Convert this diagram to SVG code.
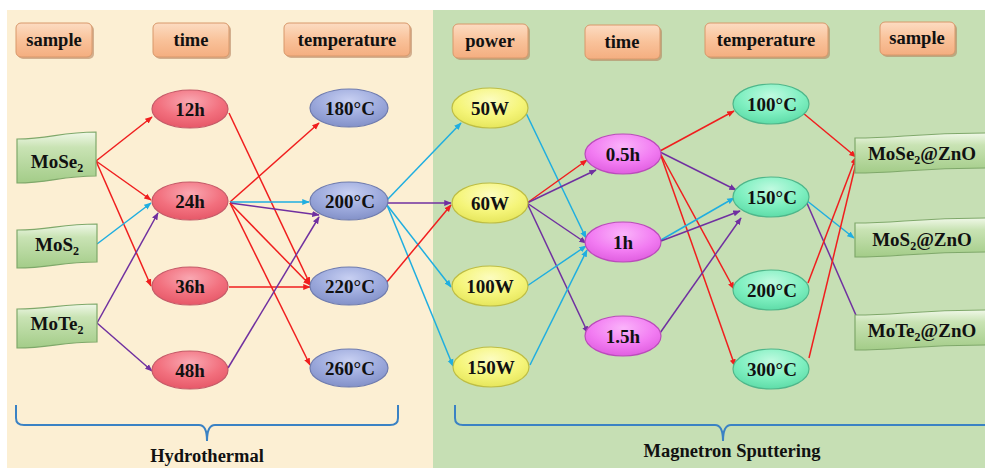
<svg xmlns="http://www.w3.org/2000/svg" width="985" height="468" viewBox="0 0 985 468" font-family="'Liberation Serif', 'DejaVu Serif', serif">
<defs>
<style>
text{font-family:"Liberation Serif","DejaVu Serif",serif;font-weight:700;fill:#111;text-anchor:middle}
.hd{font-size:18.5px}
.nl{font-size:19px}
.hdr{fill:url(#gOr);stroke:#D8986A;stroke-width:1}
.hsh{fill:#B07A55;opacity:.55}
.wav{fill:url(#gGr);stroke:#7FA86A;stroke-width:1.2}
.e{stroke-width:1.2}
.pk{fill:url(#gPk);stroke:#C45A68}
.bl{fill:url(#gBl);stroke:#6E7BAE}
.ye{fill:url(#gYe);stroke:#BDBD45}
.mg{fill:url(#gMg);stroke:#BA4CBA}
.mt{fill:url(#gMt);stroke:#4FB68A}
.r{stroke:#F01E1E;stroke-width:1.5;fill:none;marker-end:url(#aR)}
.c{stroke:#1FAEE0;stroke-width:1.5;fill:none;marker-end:url(#aC)}
.p{stroke:#7030A0;stroke-width:1.5;fill:none;marker-end:url(#aP)}
.br{stroke:#3A82C4;stroke-width:2;fill:none}
</style>
<linearGradient id="gOr" x1="0" y1="0" x2="0" y2="1"><stop offset="0" stop-color="#FCDCC2"/><stop offset="0.5" stop-color="#F9C29A"/><stop offset="1" stop-color="#F4AE80"/></linearGradient>
<linearGradient id="gGr" x1="0" y1="0" x2="0" y2="1"><stop offset="0" stop-color="#F0F8E8"/><stop offset="0.3" stop-color="#C9E3B4"/><stop offset="1" stop-color="#A3CC88"/></linearGradient>
<radialGradient id="gPk" cx="0.5" cy="0.3" r="0.7"><stop offset="0" stop-color="#F9A8B2"/><stop offset="0.6" stop-color="#F2707E"/><stop offset="1" stop-color="#E65868"/></radialGradient>
<radialGradient id="gBl" cx="0.5" cy="0.3" r="0.7"><stop offset="0" stop-color="#C8D0F2"/><stop offset="0.6" stop-color="#9CA9DC"/><stop offset="1" stop-color="#8391C8"/></radialGradient>
<radialGradient id="gYe" cx="0.5" cy="0.3" r="0.7"><stop offset="0" stop-color="#FCFCC0"/><stop offset="0.6" stop-color="#F5F57A"/><stop offset="1" stop-color="#E6E65C"/></radialGradient>
<radialGradient id="gMg" cx="0.5" cy="0.3" r="0.7"><stop offset="0" stop-color="#FAB4FA"/><stop offset="0.6" stop-color="#F27CF2"/><stop offset="1" stop-color="#E05EE0"/></radialGradient>
<radialGradient id="gMt" cx="0.5" cy="0.3" r="0.7"><stop offset="0" stop-color="#C0FAE0"/><stop offset="0.6" stop-color="#7EEFC0"/><stop offset="1" stop-color="#5EDCA8"/></radialGradient>
<marker id="aR" viewBox="0 0 10 10" refX="9" refY="5" markerWidth="5" markerHeight="5" orient="auto" markerUnits="strokeWidth"><path d="M0,1 L10,5 L0,9 z" fill="#F01E1E"/></marker>
<marker id="aC" viewBox="0 0 10 10" refX="9" refY="5" markerWidth="5" markerHeight="5" orient="auto" markerUnits="strokeWidth"><path d="M0,1 L10,5 L0,9 z" fill="#1FAEE0"/></marker>
<marker id="aP" viewBox="0 0 10 10" refX="9" refY="5" markerWidth="5" markerHeight="5" orient="auto" markerUnits="strokeWidth"><path d="M0,1 L10,5 L0,9 z" fill="#7030A0"/></marker>
</defs>

<rect x="0" y="0" width="985" height="468" fill="#FFFFFF"/>
<rect x="7" y="10" width="426" height="458" fill="#FCEFD3"/>
<rect x="433" y="10" width="552" height="458" fill="#C6DFB4"/>

<g id="headers">
<g id="h-sample-l"><rect class="hsh" x="18" y="25" width="76" height="34" rx="5"/><rect class="hdr" x="16" y="23" width="76" height="34" rx="5"/><text class="hd" x="54" y="46">sample</text></g>
<g id="h-time-l"><rect class="hsh" x="155" y="25" width="76" height="34" rx="5"/><rect class="hdr" x="153" y="23" width="76" height="34" rx="5"/><text class="hd" x="191" y="46">time</text></g>
<g id="h-temp-l"><rect class="hsh" x="286" y="25" width="126" height="33" rx="5"/><rect class="hdr" x="284" y="23" width="126" height="33" rx="5"/><text class="hd" x="347" y="46">temperature</text></g>
<g id="h-power"><rect class="hsh" x="455" y="26" width="75" height="34" rx="5"/><rect class="hdr" x="453" y="24" width="75" height="34" rx="5"/><text class="hd" x="490" y="47">power</text></g>
<g id="h-time-r"><rect class="hsh" x="587" y="27" width="75" height="34" rx="5"/><rect class="hdr" x="585" y="25" width="75" height="34" rx="5"/><text class="hd" x="622" y="48">time</text></g>
<g id="h-temp-r"><rect class="hsh" x="707" y="25" width="123" height="34" rx="5"/><rect class="hdr" x="705" y="23" width="123" height="34" rx="5"/><text class="hd" x="766" y="46">temperature</text></g>
<g id="h-sample-r"><rect class="hsh" x="882" y="24" width="75" height="33" rx="5"/><rect class="hdr" x="880" y="22" width="75" height="33" rx="5"/><text class="hd" x="917" y="44">sample</text></g>
</g>

<g id="connectors">
<path class="r" d="M96,161 L152,117"/>
<path class="r" d="M96,161 L151,200"/>
<path class="r" d="M96,161 L151,286"/>
<path class="c" d="M97,244 L151,203"/>
<path class="p" d="M97,323 L158,213"/>
<path class="p" d="M97,323 L152,371"/>
<path class="r" d="M229,113 L310,284"/>
<path class="r" d="M230,202 L319,123"/>
<path class="c" d="M230,202 L309,202"/>
<path class="p" d="M230,203 L319,215"/>
<path class="r" d="M230,203 L310,285"/>
<path class="r" d="M230,203 L310,365"/>
<path class="r" d="M229,287 L310,287"/>
<path class="p" d="M228,368 L319,217"/>
<path class="c" d="M387,200 L461,123"/>
<path class="p" d="M387,203 L451,203"/>
<path class="c" d="M387,205 L451,287"/>
<path class="c" d="M387,205 L453,366"/>
<path class="r" d="M386,283 L451,205"/>
<path class="c" d="M526,113 L586,238"/>
<path class="r" d="M527,203 L587,160"/>
<path class="p" d="M527,203 L596,170"/>
<path class="p" d="M527,203 L586,243"/>
<path class="p" d="M527,203 L588,333"/>
<path class="c" d="M527,286 L586,246"/>
<path class="c" d="M530,365 L587,250"/>
<path class="r" d="M660,151 L734,111"/>
<path class="p" d="M660,152 L736,190"/>
<path class="r" d="M660,153 L734,289"/>
<path class="r" d="M660,153 L735,366"/>
<path class="c" d="M661,240 L734,198"/>
<path class="p" d="M661,241 L740,211"/>
<path class="p" d="M660,333 L741,218"/>
<path class="r" d="M803,113 L856,157"/>
<path class="c" d="M806,200 L854,238"/>
<path class="p" d="M806,201 L862,329"/>
<path class="r" d="M808,283 L856,157"/>
<path class="r" d="M809,358 L857,159"/>
</g>

<g id="n-MoSe2"><path class="wav" d="M17,139 C50,139 60,132 96,132 L96,176 C60,176 50,183 17,183 Z"/><text class="nl" x="57" y="168">MoSe<tspan font-size="12" dy="4">2</tspan></text></g>
<g id="n-MoS2"><path class="wav" d="M17,230 C50,230 60,224 97,224 L97,262 C60,262 50,268 17,268 Z"/><text class="nl" x="57" y="251">MoS<tspan font-size="12" dy="4">2</tspan></text></g>
<g id="n-MoTe2"><path class="wav" d="M17,309 C50,309 60,304 97,304 L97,342 C60,342 50,348 17,348 Z"/><text class="nl" x="57" y="330">MoTe<tspan font-size="12" dy="4">2</tspan></text></g>

<g id="n-12h"><ellipse class="e pk" cx="190" cy="109" rx="38" ry="19"/><text class="nl" x="190" y="116">12h</text></g>
<g id="n-24h"><ellipse class="e pk" cx="190" cy="201" rx="38" ry="19"/><text class="nl" x="190" y="208">24h</text></g>
<g id="n-36h"><ellipse class="e pk" cx="190" cy="286" rx="38" ry="19"/><text class="nl" x="190" y="293">36h</text></g>
<g id="n-48h"><ellipse class="e pk" cx="190" cy="370" rx="38" ry="19"/><text class="nl" x="190" y="377">48h</text></g>

<g id="n-180C"><ellipse class="e bl" cx="349" cy="108" rx="39" ry="19"/><text class="nl" x="350" y="115">180°C</text></g>
<g id="n-200C-l"><ellipse class="e bl" cx="349" cy="201" rx="39" ry="19"/><text class="nl" x="350" y="208">200°C</text></g>
<g id="n-220C"><ellipse class="e bl" cx="349" cy="286" rx="39" ry="19"/><text class="nl" x="350" y="293">220°C</text></g>
<g id="n-260C"><ellipse class="e bl" cx="349" cy="368" rx="39" ry="19"/><text class="nl" x="350" y="375">260°C</text></g>

<g id="n-50W"><ellipse class="e ye" cx="490" cy="108" rx="38" ry="20"/><text class="nl" x="490" y="115">50W</text></g>
<g id="n-60W"><ellipse class="e ye" cx="490" cy="203" rx="38" ry="20"/><text class="nl" x="490" y="210">60W</text></g>
<g id="n-100W"><ellipse class="e ye" cx="490" cy="286" rx="38" ry="20"/><text class="nl" x="490" y="293">100W</text></g>
<g id="n-150W"><ellipse class="e ye" cx="491" cy="367" rx="38" ry="20"/><text class="nl" x="491" y="374">150W</text></g>

<g id="n-05h"><ellipse class="e mg" cx="623" cy="154" rx="38" ry="20"/><text class="nl" x="623" y="161">0.5h</text></g>
<g id="n-1h"><ellipse class="e mg" cx="623" cy="242" rx="38" ry="20"/><text class="nl" x="623" y="249">1h</text></g>
<g id="n-15h"><ellipse class="e mg" cx="623" cy="336" rx="38" ry="20"/><text class="nl" x="623" y="343">1.5h</text></g>

<g id="n-100C"><ellipse class="e mt" cx="771" cy="104" rx="38" ry="20"/><text class="nl" x="772" y="111">100°C</text></g>
<g id="n-150C"><ellipse class="e mt" cx="771" cy="197" rx="38" ry="20"/><text class="nl" x="772" y="204">150°C</text></g>
<g id="n-200C-r"><ellipse class="e mt" cx="771" cy="290" rx="38" ry="20"/><text class="nl" x="772" y="297">200°C</text></g>
<g id="n-300C"><ellipse class="e mt" cx="771" cy="369" rx="38" ry="20"/><text class="nl" x="772" y="376">300°C</text></g>

<g id="n-MoSe2ZnO"><path class="wav" d="M855,138 C900,138 915,133 990,133 L990,168 C915,168 900,173 855,173 Z"/><text class="nl" x="922" y="160">MoSe<tspan font-size="12" dy="4">2</tspan><tspan dy="-4">@ZnO</tspan></text></g>
<g id="n-MoS2ZnO"><path class="wav" d="M855,223 C900,223 915,218 990,218 L990,252 C915,252 900,257 855,257 Z"/><text class="nl" x="922" y="246">MoS<tspan font-size="12" dy="4">2</tspan><tspan dy="-4">@ZnO</tspan></text></g>
<g id="n-MoTe2ZnO"><path class="wav" d="M855,315 C900,315 915,310 990,310 L990,345 C915,345 900,350 855,350 Z"/><text class="nl" x="922" y="337">MoTe<tspan font-size="12" dy="4">2</tspan><tspan dy="-4">@ZnO</tspan></text></g>

<g id="brace-hydro"><path class="br" d="M16,405 L16,418 Q16,425 24,425 L199,425 Q207,425 207,441 Q207,425 215,425 L390,425 Q398,425 398,418 L398,405"/><text class="hd" x="207" y="462">Hydrothermal</text></g>
<g id="brace-magnetron"><path class="br" d="M455,405 L455,418 Q455,425 463,425 L715,425 Q723,425 723,441 Q723,425 731,425 L990,425"/><text class="hd" x="732" y="457">Magnetron Sputtering</text></g>
</svg>
